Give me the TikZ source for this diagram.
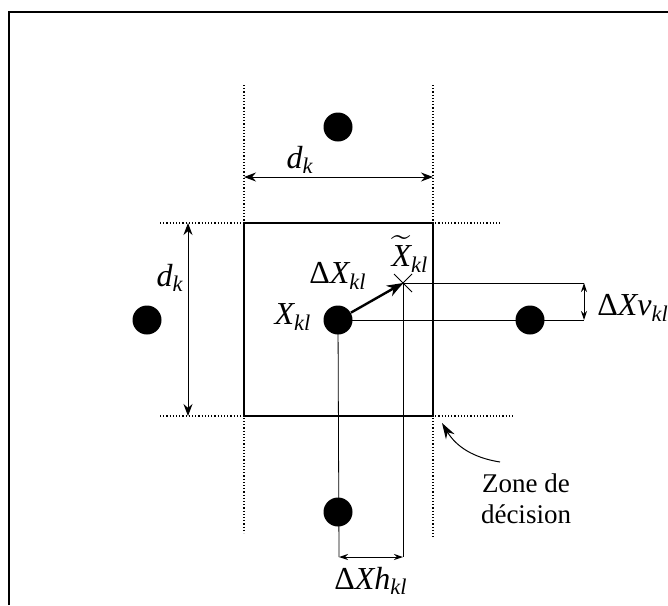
\documentclass[tikz,border=0pt]{standalone}
\usepackage{amsmath}
\usepackage{fontspec}
\setmainfont{Liberation Serif}
\usetikzlibrary{arrows.meta}
\begin{document}
\begin{tikzpicture}[
    x=0.5pt,
    y=-0.5pt,
    point/.style={circle, fill=black, inner sep=0pt, minimum size=14.5pt},
    pointille/.style={densely dotted, line width=0.6pt},
    fin/.style={line width=0.4pt},
    cote/.style={line width=0.5pt, {Stealth[length=6pt,width=4.5pt]}-{Stealth[length=6pt,width=4.5pt]}},
    petitecote/.style={line width=0.5pt, {Stealth[length=4.5pt,width=3pt]}-{Stealth[length=4.5pt,width=3pt]}},
    lettre/.style={font=\fontsize{16}{18}\selectfont, inner sep=0pt},
    texte/.style={font=\fontsize{13.5}{15.5}\selectfont, align=center, inner sep=0pt}
]
\useasboundingbox (0,0) rectangle (668,605);

% Cadre
\draw[line width=1pt] (9,605) -- (9,12) -- (668,12);

% Zone de décision et ses prolongements
\draw[line width=1pt] (244,223) rectangle (433,416);
\draw[pointille] (244,85) -- (244,533);
\draw[pointille] (433,85) -- (433,538);
\draw[pointille] (160,223) -- (500,223);
\draw[pointille] (160,416) -- (513,416);

% Points du réseau
\foreach \nom/\x/\y in {haut/338/127, gauche/147/320, centre/338/320, droite/530/320, bas/338/512}
    \node[point] (\nom) at (\x,\y) {};

% Point reçu
\coordinate (recu) at (403,283);
\draw[fin] (394,274) -- (412,292);
\draw[fin] (394,292) -- (412,274);
\draw[line width=1.2pt, -{Stealth[length=8pt,width=6pt]}] (centre) -- (recu);

% Projections
\coordinate (v1) at (584,283);
\coordinate (v2) at (584,320);
\coordinate (h1) at (339,557);
\coordinate (h2) at (403,557);
\draw[fin] (recu) -- (v1);
\draw[fin] (centre.center) -- (v2);
\draw[fin] (centre.center) -- (h1);
\draw[fin] (recu) -- (h2);
\draw[petitecote] (v1) -- (v2);
\draw[petitecote] (h1) -- (h2);

% Cotes d_k
\coordinate (dh1) at (244,177);
\coordinate (dh2) at (433,177);
\coordinate (dv1) at (188,223);
\coordinate (dv2) at (188,416);
\draw[cote] (dh1) -- (dh2);
\draw[cote] (dv1) -- (dv2);

% Etiquettes
\node[lettre] (lbl-dh) at (300,160) {$\textit{d}_{\textit{k}}$};
\node[lettre] (lbl-dv) at (170,278) {$\textit{d}_{\textit{k}}$};
\node[lettre] (lbl-x) at (293,317) {$\textit{X}_{\textit{kl}}$};
\node[lettre] (lbl-dx) at (338,276) {$\text{Δ}\textit{X}_{\textit{kl}}$};
\node[lettre] (lbl-xt) at (410,254) {$\widetilde{\textit{X}}_{\textit{kl}}$};
\node[lettre] (lbl-dxv) at (633,308) {$\text{Δ}\textit{Xv}_{\textit{kl}}$};
\node[lettre] (lbl-dxh) at (371,581) {$\text{Δ}\textit{Xh}_{\textit{kl}}$};
\node[texte] (zone) at (526,499) {Zone de\\décision};

% Flèche vers la zone
\coordinate (coin) at (442,423);
\draw[line width=0.5pt, -{Stealth[length=8pt,width=5pt]}] (500,462) to[bend left=25] (coin);

\end{tikzpicture}
\end{document}
